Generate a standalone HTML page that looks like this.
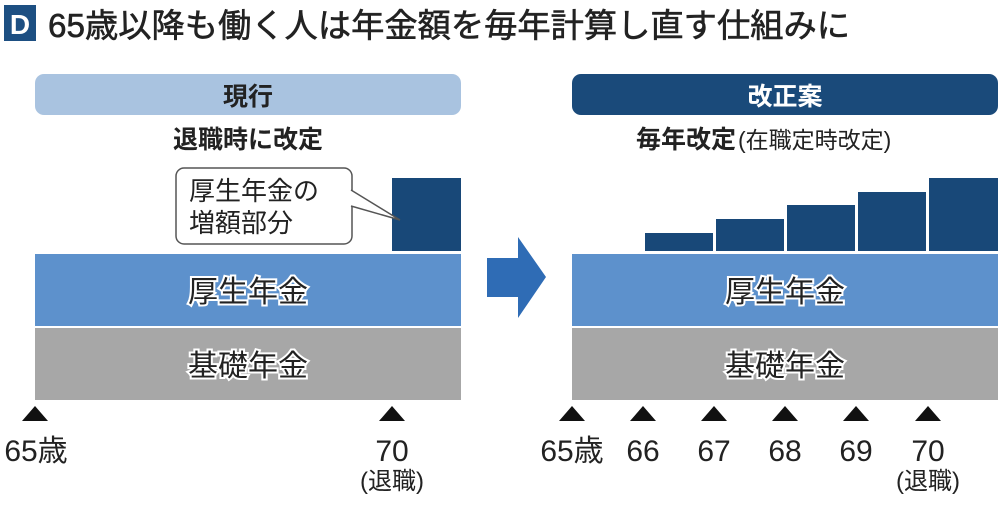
<!DOCTYPE html>
<html><head><meta charset="utf-8"><style>
html,body{margin:0;padding:0;background:#fff;}
svg{display:block;}
text{font-family:"Liberation Sans","Noto Sans CJK JP",sans-serif;}
</style></head><body>
<svg width="1000" height="509" viewBox="0 0 1000 509" xmlns="http://www.w3.org/2000/svg">
<rect x="4" y="5" width="32" height="36" fill="#1d4f82"/>
<text x="20" y="34" font-size="28" fill="#fff" text-anchor="middle" font-weight="bold">D</text>
<text x="48" y="37" font-size="33" fill="#222" stroke="#222" stroke-width="0.6" textLength="802" lengthAdjust="spacingAndGlyphs">65歳以降も働く人は年金額を毎年計算し直す仕組みに</text>

<rect x="35" y="74" width="426" height="41" rx="9" fill="#a9c3e0"/>
<text x="248" y="105" font-size="25" font-weight="bold" fill="#222" text-anchor="middle">現行</text>
<text x="248" y="148" font-size="25" font-weight="bold" fill="#222" text-anchor="middle">退職時に改定</text>

<rect x="572" y="74" width="426" height="41" rx="9" fill="#1a4a7a"/>
<text x="785" y="105" font-size="25" font-weight="bold" fill="#fff" text-anchor="middle">改正案</text>
<text x="636" y="148" font-size="25" font-weight="bold" fill="#222">毎年改定</text>
<text x="738" y="148" font-size="23" fill="#222">(在職定時改定)</text>

<!-- left panel -->
<rect x="392" y="178" width="69" height="73" fill="#184878"/>
<rect x="176" y="168" width="176" height="76" rx="8" fill="#fff" stroke="#555" stroke-width="1.5"/>
<path d="M351 190 L400 220 L351 206" fill="#fff" stroke="#555" stroke-width="1.5"/>
<line x1="351" y1="192" x2="351" y2="205" stroke="#fff" stroke-width="3"/>
<text x="189" y="200" font-size="26" fill="#222">厚生年金の</text>
<text x="189" y="232" font-size="26" fill="#222">増額部分</text>
<rect x="35" y="254" width="426" height="72" fill="#5d91cc"/>
<text x="248" y="302" font-size="30" fill="#222" text-anchor="middle" stroke="#fff" stroke-width="4" paint-order="stroke">厚生年金</text>
<rect x="35" y="328" width="426" height="72" fill="#a7a7a7"/>
<text x="248" y="376" font-size="30" fill="#222" text-anchor="middle" stroke="#fff" stroke-width="4" paint-order="stroke">基礎年金</text>
<polygon points="22,421 48,421 35,406" fill="#111"/>
<polygon points="379,421 405,421 392,406" fill="#111"/>
<text x="36" y="461" font-size="30" fill="#222" text-anchor="middle">65歳</text>
<text x="392" y="461" font-size="30" fill="#222" text-anchor="middle">70</text>
<text x="392" y="489" font-size="24" fill="#222" text-anchor="middle">(退職)</text>

<!-- arrow -->
<polygon points="487,258 518,258 518,237 546,277 518,318 518,297 487,297" fill="#2f6cb5"/>

<!-- right panel -->
<rect x="645" y="233" width="68" height="18" fill="#184878"/>
<rect x="716" y="219" width="68" height="32" fill="#184878"/>
<rect x="787" y="205" width="68" height="46" fill="#184878"/>
<rect x="858" y="192" width="68" height="59" fill="#184878"/>
<rect x="929" y="178" width="69" height="73" fill="#184878"/>
<rect x="572" y="254" width="426" height="72" fill="#5d91cc"/>
<text x="785" y="302" font-size="30" fill="#222" text-anchor="middle" stroke="#fff" stroke-width="4" paint-order="stroke">厚生年金</text>
<rect x="572" y="328" width="426" height="72" fill="#a7a7a7"/>
<text x="785" y="376" font-size="30" fill="#222" text-anchor="middle" stroke="#fff" stroke-width="4" paint-order="stroke">基礎年金</text>
<g fill="#111">
<polygon points="559,421 585,421 572,406"/>
<polygon points="630,421 656,421 643,406"/>
<polygon points="701,421 727,421 714,406"/>
<polygon points="772,421 798,421 785,406"/>
<polygon points="843,421 869,421 856,406"/>
<polygon points="915,421 941,421 928,406"/>
</g>
<g font-size="30" fill="#222" text-anchor="middle">
<text x="572" y="461">65歳</text>
<text x="643" y="461">66</text>
<text x="714" y="461">67</text>
<text x="785" y="461">68</text>
<text x="856" y="461">69</text>
<text x="928" y="461">70</text>
</g>
<text x="928" y="489" font-size="24" fill="#222" text-anchor="middle">(退職)</text>
</svg>
</body></html>
